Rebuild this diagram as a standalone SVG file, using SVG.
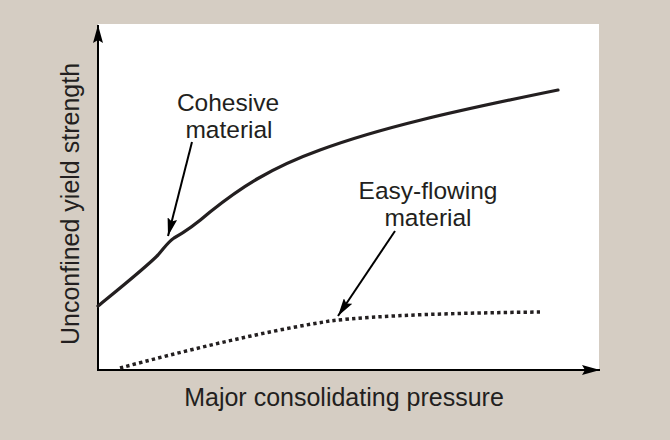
<svg xmlns="http://www.w3.org/2000/svg" width="670" height="440" viewBox="0 0 670 440">
  <style>
    .lbl { font-family: "Liberation Sans", Arial, sans-serif; font-size: 24.5px; fill: #231f20; text-anchor: middle; }
    .axlbl { font-family: "Liberation Sans", Arial, sans-serif; font-size: 25px; fill: #231f20; text-anchor: middle; }
    .axis { stroke: #000; stroke-width: 2; fill: none; }
    .ptr { stroke: #000; stroke-width: 2; fill: none; }
    .solid { stroke: #231f20; stroke-width: 3.2; fill: none; stroke-linecap: round; stroke-linejoin: round; }
    .dotted { stroke: #231f20; stroke-width: 3.5; fill: none; stroke-dasharray: 3.4 3.2; }
  </style>
  <defs>
    <marker id="ah" viewBox="0 0 18 10" refX="18" refY="5" markerWidth="18" markerHeight="10" markerUnits="userSpaceOnUse" orient="auto">
      <path d="M0,0 L18,5 L0,10 L3,5 Z" fill="#000"/>
    </marker>
  </defs>

  <rect id="background" x="0" y="0" width="670" height="440" fill="#d5cdc3"/>
  <rect id="plot-area" x="98" y="24" width="501" height="346" fill="#ffffff"/>

  <g id="axes">
    <line class="axis" x1="98" y1="371" x2="98" y2="25" marker-end="url(#ah)"/>
    <line class="axis" x1="97" y1="370" x2="600" y2="370" marker-end="url(#ah)"/>
  </g>

  <g id="cohesive-curve">
    <path class="solid" d="M98,306 C120,288 145,268 158,255 C165,247 168,242 174,238 C185,232 195,225 210,212 C240,188 270,168 320,150 C380,128 450,112 558,90"/>
  </g>

  <g id="easy-flowing-curve">
    <path class="dotted" d="M120,368 C180,352 260,332 330,321 C380,315 460,313 540,312"/>
  </g>

  <g id="connectors">
    <line class="ptr" x1="192" y1="142" x2="168" y2="236" marker-end="url(#ah)"/>
    <line class="ptr" x1="395" y1="231" x2="338" y2="316" marker-end="url(#ah)"/>
  </g>

  <g id="label-cohesive">
    <text class="lbl" x="228" y="111">Cohesive</text>
    <text class="lbl" x="229" y="138">material</text>
  </g>

  <g id="label-easy-flowing">
    <text class="lbl" x="428" y="199">Easy-flowing</text>
    <text class="lbl" x="428" y="226">material</text>
  </g>

  <g id="axis-labels">
    <text class="axlbl" x="344" y="406">Major consolidating pressure</text>
    <text class="axlbl" transform="translate(79,204) rotate(-90)" x="0" y="0">Unconfined yield strength</text>
  </g>
</svg>
